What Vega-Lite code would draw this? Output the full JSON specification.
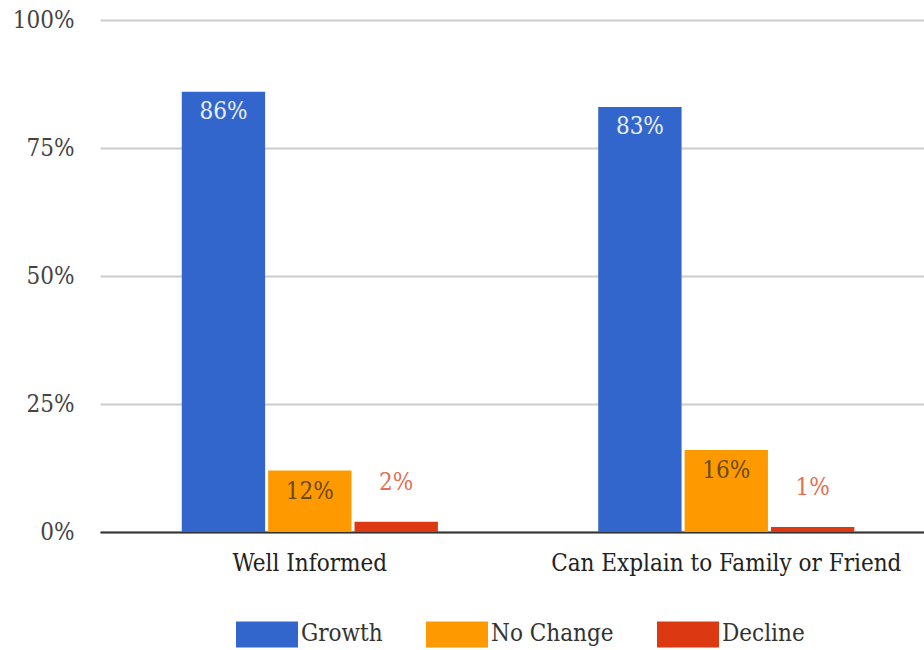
{
  "$schema": "https://vega.github.io/schema/vega-lite/v6.json",
  "width": 824,
  "height": 512,
  "autosize": {"type": "none"},
  "padding": {"left": 100, "top": 20, "right": 0, "bottom": 118},
  "background": "white",
  "config": {
    "view": {"stroke": null},
    "font": "DejaVu Serif Condensed"
  },
  "data": {
    "values": [
      {"item": "Well Informed", "response": "Growth", "share": 0.86},
      {"item": "Well Informed", "response": "No Change", "share": 0.12},
      {"item": "Well Informed", "response": "Decline", "share": 0.02},
      {"item": "Can Explain to Family or Friend", "response": "Growth", "share": 0.83},
      {"item": "Can Explain to Family or Friend", "response": "No Change", "share": 0.16},
      {"item": "Can Explain to Family or Friend", "response": "Decline", "share": 0.01}
    ]
  },
  "encoding": {
    "x": {
      "field": "item",
      "type": "nominal",
      "sort": ["Well Informed", "Can Explain to Family or Friend"],
      "scale": {"paddingInner": 0.385, "paddingOuter": 0.1818, "align": 0.54},
      "axis": {
        "title": null,
        "labelAngle": 0,
        "labelFontSize": 24,
        "labelLimit": 0,
        "labelColor": "#222222",
        "labelPadding": 19,
        "ticks": false,
        "domainColor": "#333333",
        "domainWidth": 2
      }
    },
    "xOffset": {
      "field": "response",
      "type": "nominal",
      "sort": ["Growth", "No Change", "Decline"],
      "scale": {"paddingInner": 0.035}
    },
    "y": {
      "field": "share",
      "type": "quantitative",
      "scale": {"domain": [0, 1]},
      "axis": {
        "title": null,
        "format": ".0%",
        "values": [0, 0.25, 0.5, 0.75, 1],
        "labelFontSize": 24,
        "labelColor": "#444444",
        "labelPadding": 26,
        "ticks": false,
        "domain": false,
        "gridColor": "#cccccc",
        "gridWidth": 2
      }
    }
  },
  "layer": [
    {
      "mark": {"type": "bar"},
      "encoding": {
        "color": {
          "field": "response",
          "type": "nominal",
          "sort": ["Growth", "No Change", "Decline"],
          "scale": {
            "domain": ["Growth", "No Change", "Decline"],
            "range": ["#3366cc", "#ff9900", "#dc3912"]
          },
          "legend": {
            "orient": "none",
            "legendX": 136,
            "legendY": 583,
            "direction": "horizontal",
            "title": null,
            "labelFontSize": 24,
            "labelLimit": 0,
            "labelColor": "#333333",
            "labelOffset": 3,
            "columnPadding": 43,
            "symbolType": "M-1,-0.42H1V0.42H-1Z",
            "symbolSize": 3844,
            "symbolStrokeWidth": 0,
            "symbolOpacity": 1
          }
        }
      }
    },
    {
      "transform": [{"filter": "datum.response === 'Growth'"}],
      "mark": {"type": "text", "baseline": "middle", "dy": 20, "fontSize": 24, "color": "#e8eefa"},
      "encoding": {"text": {"field": "share", "type": "quantitative", "format": ".0%"}}
    },
    {
      "transform": [{"filter": "datum.response === 'No Change'"}],
      "mark": {"type": "text", "baseline": "middle", "dy": 21, "fontSize": 24, "color": "#6b4a12"},
      "encoding": {"text": {"field": "share", "type": "quantitative", "format": ".0%"}}
    },
    {
      "transform": [{"filter": "datum.response === 'Decline'"}],
      "mark": {"type": "text", "baseline": "middle", "dy": -39, "fontSize": 24, "color": "#e07155"},
      "encoding": {"text": {"field": "share", "type": "quantitative", "format": ".0%"}}
    }
  ]
}
